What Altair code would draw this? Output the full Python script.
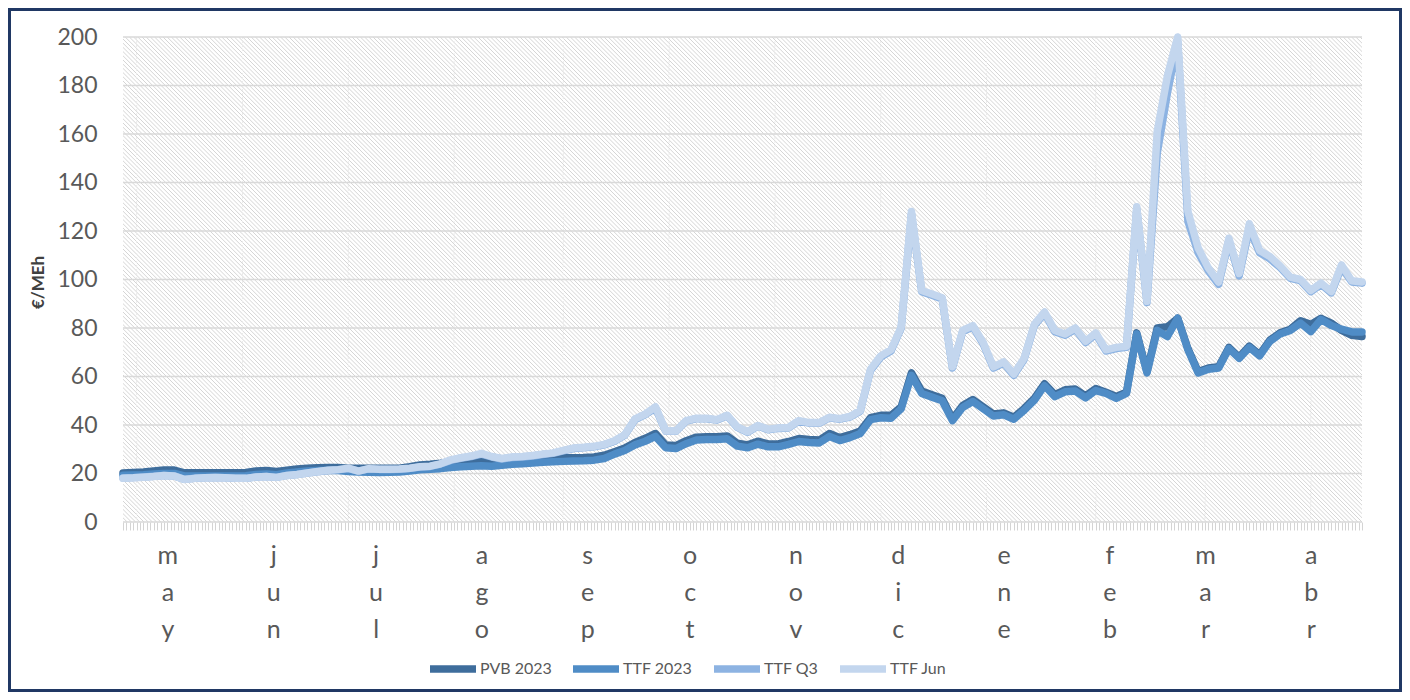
import altair as alt
import pandas as pd
from datetime import datetime, timezone

# ---------------- data ----------------
series_names = ["PVB 2023", "TTF 2023", "TTF Q3", "TTF Jun"]
start_date = "2022-05-01"
step_days = 3

pvb_2023 = [
    20.2, 20.4, 20.6, 21.0, 21.4, 21.4, 20.3, 20.3, 20.3, 20.3,
    20.3, 20.3, 20.4, 21.0, 21.2, 20.8, 21.4, 21.9, 22.2, 22.4,
    22.5, 22.5, 22.2, 22.2, 22.2, 22.2, 22.2, 22.2, 22.8, 23.5,
    23.8, 24.2, 24.8, 25.2, 25.4, 25.6, 25.3, 25.0, 25.2, 25.4,
    25.6, 26.0, 26.2, 26.5, 26.5, 26.6, 26.8, 27.5, 29.0, 30.5,
    32.8, 34.5, 36.5, 31.8, 31.5, 33.5, 35.0, 35.2, 35.2, 35.5,
    32.5, 31.8, 33.3, 32.2, 32.2, 33.2, 34.4, 34.0, 33.8, 36.5,
    34.8, 36.0, 37.5, 43.0, 44.0, 44.0, 47.5, 61.5, 54.0, 52.5,
    51.0, 42.5, 48.0, 50.5, 47.5, 44.5, 45.0, 43.2, 46.8, 51.0,
    57.0, 52.5, 54.5, 54.8, 52.0, 55.0, 53.5, 51.8, 53.5, 78.0,
    62.0, 80.0, 80.5, 84.0, 71.5, 62.0, 63.5, 64.0, 72.0, 68.0,
    72.5, 69.0, 75.0, 78.0, 79.5, 83.0, 81.5, 84.0, 82.0, 79.0,
    77.0, 76.5,
]
ttf_2023 = [
    19.3, 19.4, 19.5, 19.8, 20.0, 20.0, 19.0, 19.0, 19.0, 19.0,
    19.0, 19.0, 19.1, 19.6, 19.8, 19.5, 20.2, 20.6, 21.0, 21.2,
    21.3, 21.2, 20.8, 20.6, 20.5, 20.4, 20.5, 20.6, 21.0, 21.5,
    21.8, 22.0, 22.5, 22.8, 23.0, 23.2, 23.0, 23.4, 23.8, 24.0,
    24.3, 24.6, 24.8, 25.0, 25.2, 25.3, 25.5, 26.2, 28.0, 29.5,
    31.8, 33.3, 35.3, 30.6, 30.3, 32.3, 33.8, 34.0, 34.0, 34.3,
    31.3, 30.6, 32.1, 31.0, 31.0, 32.0, 33.2, 32.8, 32.6, 35.3,
    33.6, 34.8, 36.5, 42.2, 43.0, 42.8, 46.7, 60.5, 53.0, 51.5,
    50.0, 41.8, 47.2, 49.7, 46.7, 43.7, 44.2, 42.4, 46.0, 50.2,
    56.2, 51.7, 53.7, 54.0, 51.2, 54.2, 53.0, 51.0, 53.0, 77.5,
    61.5, 79.0, 76.5, 84.0, 71.0, 61.5, 63.0, 63.5, 71.5, 67.5,
    72.0, 68.5, 74.5, 77.5, 79.0, 82.0, 78.5, 83.5, 81.0, 79.5,
    78.4, 78.4,
]
ttf_q3 = [
    18.1, 18.3, 18.6, 18.9, 19.2, 19.0, 17.6, 18.0, 18.2, 18.4,
    18.2, 18.0, 18.0, 18.6, 18.8, 18.4, 19.2, 19.6, 20.2, 20.7,
    21.2, 21.5, 22.0, 21.0, 21.9, 21.7, 21.7, 21.8, 22.1, 22.7,
    22.9, 23.9, 25.4, 26.3, 27.0, 28.0, 26.8, 26.0, 26.6, 26.8,
    27.2, 27.8, 28.3, 29.3, 30.3, 30.6, 31.0, 31.8, 33.3, 35.8,
    42.2, 44.3, 47.0, 37.4, 37.4, 41.6, 42.6, 42.6, 42.0, 43.8,
    39.0, 37.0, 39.6, 38.0, 38.6, 38.8, 41.6, 40.8, 40.8, 43.0,
    42.4, 43.3, 45.7, 62.5, 68.0, 70.5, 80.0, 127.0, 95.0, 93.5,
    92.0, 63.5, 78.5, 80.5, 73.5, 63.5, 65.5, 60.5, 67.0, 81.0,
    86.0, 78.5, 77.0, 79.5, 74.0, 77.5, 70.5, 71.5, 72.0, 129.0,
    90.5, 152.0, 177.0, 198.0, 124.0, 111.0, 103.5, 98.0, 116.0, 101.5,
    121.0, 111.0, 108.5, 105.0, 100.5, 99.5, 95.0, 98.0, 94.5, 105.0,
    99.0, 98.5,
]
ttf_jun = [
    18.0, 18.2, 18.5, 18.8, 19.2, 19.0, 17.5, 18.0, 18.2, 18.4,
    18.2, 18.0, 18.0, 18.6, 18.8, 18.4, 19.2, 19.6, 20.2, 20.8,
    21.3, 21.6, 22.2, 21.0, 22.0, 21.8, 21.8, 21.9, 22.2, 22.8,
    23.0, 24.0, 25.6, 26.5, 27.2, 28.3, 27.0, 26.2, 26.8, 27.0,
    27.4, 28.0, 28.5, 29.5, 30.5, 30.8, 31.2, 32.0, 33.5, 36.0,
    42.5, 44.5, 47.5, 37.5, 37.5, 41.8, 42.8, 42.8, 42.2, 44.0,
    39.2, 37.2, 39.8, 38.2, 38.8, 39.0, 41.8, 41.0, 41.0, 43.2,
    42.6, 43.5, 46.0, 63.0, 68.5, 71.0, 80.4, 128.0, 95.5, 94.0,
    92.5, 64.0, 79.0, 81.0, 74.0, 64.0, 66.0, 61.0, 67.5, 81.5,
    86.6, 79.0, 77.5, 80.0, 74.5, 78.0, 71.0, 72.0, 72.5, 130.0,
    91.0, 161.0, 184.0, 200.0, 128.0, 113.0, 104.7, 99.0, 117.0, 102.5,
    123.0, 112.0, 109.5, 105.6, 101.0, 100.0, 95.5, 98.5, 95.0, 106.0,
    99.5, 99.0,
]

month_names = ["ene", "feb", "mar", "abr", "may", "jun",
               "jul", "ago", "sep", "oct", "nov", "dic"]
y_ticks = [0, 20, 40, 60, 80, 100, 120, 140, 160, 180, 200]
label_day_of_month = 14
vgrid_days = [4, 35, 66, 97, 129, 160, 191, 222, 253, 285, 317, 348]

colors = ["#3E6D9C", "#4F8CC6", "#8DB3E2", "#C3D6EE"]
widths = [7.5, 7.5, 5.0, 5.0]

# ---------------- layout ----------------
W, H = 1239, 485
PAD = {"left": 115, "top": 29, "right": 40, "bottom": 170}
DAY = 86400000
FONT = "Lato"

t0 = int(datetime.fromisoformat(start_date).replace(tzinfo=timezone.utc).timestamp() * 1000)
n = len(pvb_2023)
times = [t0 + i * step_days * DAY for i in range(n)]
t_end = times[-1]
n_days = (t_end - t0) // DAY

rows = []
for name, vals in zip(series_names, [pvb_2023, ttf_2023, ttf_q3, ttf_jun]):
    for t, v in zip(times, vals):
        rows.append({"t": t, "series": name, "value": v})
df = pd.DataFrame(rows)

xscale = alt.Scale(type="utc", domain=[t0, t_end], nice=False)
yscale = alt.Scale(domain=[0, 200], nice=False, zero=True)

months_js = "[" + ",".join(f"'{m}'" for m in month_names) + "]"
label_expr = (f"utcdate(datum.value) == {label_day_of_month} ? "
              f"split({months_js}[utcmonth(datum.value)], '') : ''")

xaxis = alt.Axis(
    values=[t0 + d * DAY for d in range(0, n_days + 1)],
    labelExpr=label_expr, grid=False, domain=False,
    ticks=True, tickSize=8, tickColor="#d4d4d4", tickWidth=1,
    labelFont=FONT, labelFontSize=25, labelColor="#595959",
    labelLineHeight=37, labelPadding=13, labelOverlap=False,
    labelBound=False, labelFlush=False, labelAngle=0,
    labelAlign="center", labelBaseline="top", title=None,
)
yaxis = alt.Axis(
    values=y_ticks, grid=False, domain=False, ticks=False,
    labelFont=FONT, labelFontSize=23, labelColor="#595959", labelPadding=26,
    title="€/MEh", titleFont=FONT, titleFontSize=17, titleFontWeight="bold",
    titleColor="#404040", titleX=-85, titleY=245, titleAngle=270,
    titleAlign="center", titleBaseline="middle",
)

px_per_day = W / n_days
hatch_span = int(H / px_per_day * DAY)
hatch_step = int(4.2 / px_per_day * DAY)

hatch = alt.Chart(
    alt.sequence(t0 - hatch_span, t_end + hatch_step, hatch_step, as_="h")
).transform_calculate(
    h2=f"datum.h + {hatch_span}", top="200", bot="0"
).mark_rule(clip=True, stroke="#d5d5d5", strokeWidth=1).encode(
    x=alt.X("h:T", scale=xscale, axis=xaxis),
    x2="h2:T",
    y=alt.Y("top:Q", scale=yscale, axis=yaxis),
    y2="bot:Q",
)

vgrid = alt.Chart(pd.DataFrame({"t": [t0 + d * DAY for d in vgrid_days]})).mark_rule(
    stroke="#ebebeb", strokeWidth=1, strokeDash=[2, 2]
).encode(x=alt.X("t:T", scale=xscale, axis=xaxis))

hgrid = alt.Chart(pd.DataFrame({"v": y_ticks})).mark_rule(
    stroke="#d9d9d9", strokeWidth=1.5
).encode(y=alt.Y("v:Q", scale=yscale, axis=yaxis))

legend = alt.Legend(
    orient="none", legendX=303, legendY=605, direction="horizontal", title=None,
    labelFont=FONT, labelFontSize=16, labelColor="#595959", symbolType="stroke",
    symbolSize=2116, labelOffset=0, columnPadding=6, padding=0,
)

line_layers = []
for i, name in enumerate(series_names):
    layer = alt.Chart(df).transform_filter(
        alt.datum.series == name
    ).mark_line(strokeCap="round", strokeJoin="round").encode(
        x=alt.X("t:T", scale=xscale, axis=xaxis),
        y=alt.Y("value:Q", scale=yscale, axis=yaxis),
        color=alt.Color("series:N", scale=alt.Scale(domain=series_names, range=colors), legend=legend),
        strokeWidth=alt.StrokeWidth("series:N", scale=alt.Scale(domain=series_names, range=widths), legend=legend),
    )
    line_layers.append(layer)

border = alt.Chart(pd.DataFrame({"a": [0]})).mark_rect(
    filled=False, stroke="#203864", strokeWidth=3, clip=False
).encode(
    x=alt.value(-PAD["left"] + 1.5), x2=alt.value(W + PAD["right"] - 1.5),
    y=alt.value(-PAD["top"] + 1.5), y2=alt.value(H + PAD["bottom"] - 1.5),
)

chart = alt.layer(hatch, vgrid, hgrid, *line_layers, border).properties(
    width=W, height=H, padding=PAD,
    autosize=alt.AutoSizeParams(type="none"),
    background="white",
).configure_view(stroke=None)

chart.save("out.html", embed_options={"renderer": "svg", "actions": False})
